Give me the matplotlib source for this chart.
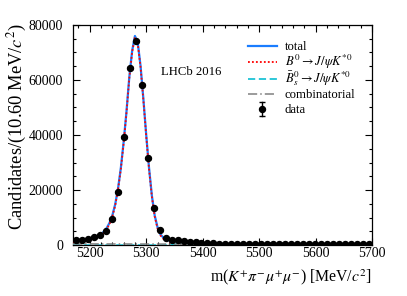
import numpy as np
import matplotlib
matplotlib.use("Agg")
import matplotlib.pyplot as plt
from matplotlib.ticker import MultipleLocator

plt.rcParams['font.family'] = ['Liberation Serif', 'DejaVu Serif']
plt.rcParams['mathtext.fontset'] = 'stix'

# ---- data ----
bin_lo = 5170.0
bin_width = 10.60
data_counts = [1850, 2000, 2200, 2800, 3700, 5200, 9600, 19400, 39100, 64300,
               74000, 58200, 31500, 13300, 5400, 2700, 1900, 1700, 1600, 1300,
               1050, 850, 700, 600, 560, 520, 480, 470, 450, 440,
               420, 430, 410, 400, 420, 390, 380, 400, 370, 380,
               360, 350, 370, 340, 350, 330, 340, 320, 330, 310]

curve_x = [5170, 5175, 5180, 5185, 5190, 5195, 5200, 5205, 5210, 5215,
           5220, 5225, 5230, 5235, 5240, 5245, 5250, 5255, 5260, 5265,
           5270, 5275, 5280, 5285, 5290, 5295, 5300, 5305, 5310, 5315,
           5320, 5325, 5330, 5335, 5340, 5345, 5350, 5355, 5360, 5365,
           5370, 5375, 5380, 5385, 5390, 5395, 5400, 5410, 5420, 5440,
           5460, 5480, 5500, 5550, 5600, 5650, 5700]

b0_curve = [1170, 1270, 1370, 1470, 1620, 1820, 2030, 2280, 2580, 2980,
            3580, 4480, 5780, 7680, 10380, 14380, 20080, 27580, 37090, 48090,
            60590, 70090, 75590, 73090, 64590, 52590, 39590, 27590, 17590, 10400,
            6080, 3570, 2340, 1590, 1170, 880, 680, 530, 430, 360,
            320, 280, 230, 190, 160, 120, 110, 90, 75, 60,
            50, 42, 36, 26, 20, 15, 12]

bs_curve = [0, 0, 0, 0, 0, 0, 0, 0, 0, 0,
            0, 0, 0, 0, 0, 0, 0, 0, 0, 0,
            0, 0, 0, 0, 0, 0, 0, 0, 0, 0,
            15, 30, 60, 110, 180, 270, 370, 470, 550, 600,
            600, 560, 480, 380, 280, 190, 120, 40, 10, 0,
            0, 0, 0, 0, 0, 0, 0]

comb_curve = [430, 428, 426, 424, 422, 420, 418, 416, 414, 412,
              410, 408, 406, 404, 402, 400, 398, 396, 394, 392,
              390, 388, 386, 384, 382, 380, 378, 376, 374, 372,
              370, 368, 366, 364, 362, 360, 358, 356, 354, 352,
              350, 348, 346, 344, 342, 340, 338, 334, 330, 322,
              315, 308, 300, 285, 270, 255, 240]

xticks = [5200, 5300, 5400, 5500, 5600, 5700]
yticks = [0, 20000, 40000, 60000, 80000]

legend_labels = ['total', r'$B^0 \to J/\psi K^{*0}$', r'$\bar{B}^0_s \to J/\psi K^{*0}$',
                 'combinatorial', 'data']

# ---- derived ----
counts = np.array(data_counts, dtype=float)
centers = bin_lo + bin_width * (np.arange(len(counts)) + 0.5)
cx = np.array(curve_x, dtype=float)
b0 = np.array(b0_curve, dtype=float)
bs = np.array(bs_curve, dtype=float)
comb = np.array(comb_curve, dtype=float)
total = b0 + bs + comb

fig = plt.figure(figsize=(4.07, 2.96), dpi=100)
ax = fig.add_axes([0.179, 0.172, 0.735, 0.744])

styles = [dict(color='#1a7dff', lw=1.6, ls='-'),
          dict(color='red', lw=1.3, ls=(0, (1, 1.2))),
          dict(color='#1cc3d6', lw=1.3, ls=(0, (4, 2))),
          dict(color='#808080', lw=1.1, ls=(0, (6, 2, 1, 2)))]

ax.plot(cx, total, zorder=2, **styles[0])
ax.plot(cx, b0, zorder=3, **styles[1])
ax.plot(cx, bs, zorder=3, **styles[2])
ax.plot(cx, comb, zorder=3, **styles[3])
ax.errorbar(centers, counts, yerr=np.sqrt(counts), fmt='o', color='black',
            ms=4.3, elinewidth=1.0, capsize=2, zorder=4)

ax.set_xlim(5170, 5700)
ax.set_ylim(0, 80000)
ax.set_xticks(xticks)
ax.set_yticks(yticks)
ax.xaxis.set_minor_locator(MultipleLocator(20))
ax.yaxis.set_minor_locator(MultipleLocator(5000))
ax.tick_params(which='both', direction='in', top=True, right=True, labelsize=10, width=0.8)
ax.tick_params(which='major', length=5)
ax.tick_params(which='minor', length=2.5)
ax.tick_params(axis='x', which='both', pad=1.5)
ax.tick_params(axis='y', which='both', pad=7)
for s in ax.spines.values():
    s.set_linewidth(0.9)

ax.set_xlabel(r'm($K^{+}\pi^{-}\mu^{+}\mu^{-}$) [MeV/$c^2$]', fontsize=11.3, loc='right')
ax.xaxis.set_label_coords(1.0, -0.1)
ax.set_ylabel(r'Candidates/(10.60 MeV/$c^2$)', fontsize=13.3, loc='top')
ax.yaxis.set_label_coords(-0.147, 1.01)

ax.text(0.395, 0.785, 'LHCb 2016', transform=ax.transAxes, fontsize=9.2, ha='center', va='center')

# legend drawn by hand for even row spacing
rows_y = [0.905, 0.830, 0.755, 0.686, 0.618]
hx0, hx1, tx = 0.585, 0.682, 0.709
base_off = 0.017
for i, lab in enumerate(legend_labels):
    yy = rows_y[i]
    if i < 4:
        ax.plot([hx0, hx1], [yy, yy], transform=ax.transAxes, clip_on=False, **styles[i])
    else:
        xm = 0.5 * (hx0 + hx1)
        ax.plot([xm, xm], [yy - 0.03, yy + 0.03], transform=ax.transAxes, color='black', lw=1.0)
        ax.plot([xm, xm], [yy - 0.03, yy + 0.03], transform=ax.transAxes, color='black', lw=0,
                marker='_', ms=4, mew=1.0)
        ax.plot([xm], [yy], transform=ax.transAxes, color='black', marker='o', ms=4.3, lw=0)
    ax.text(tx, yy - base_off, lab, transform=ax.transAxes, fontsize=9.2, ha='left', va='baseline')

fig.savefig('out.png', dpi=100)
